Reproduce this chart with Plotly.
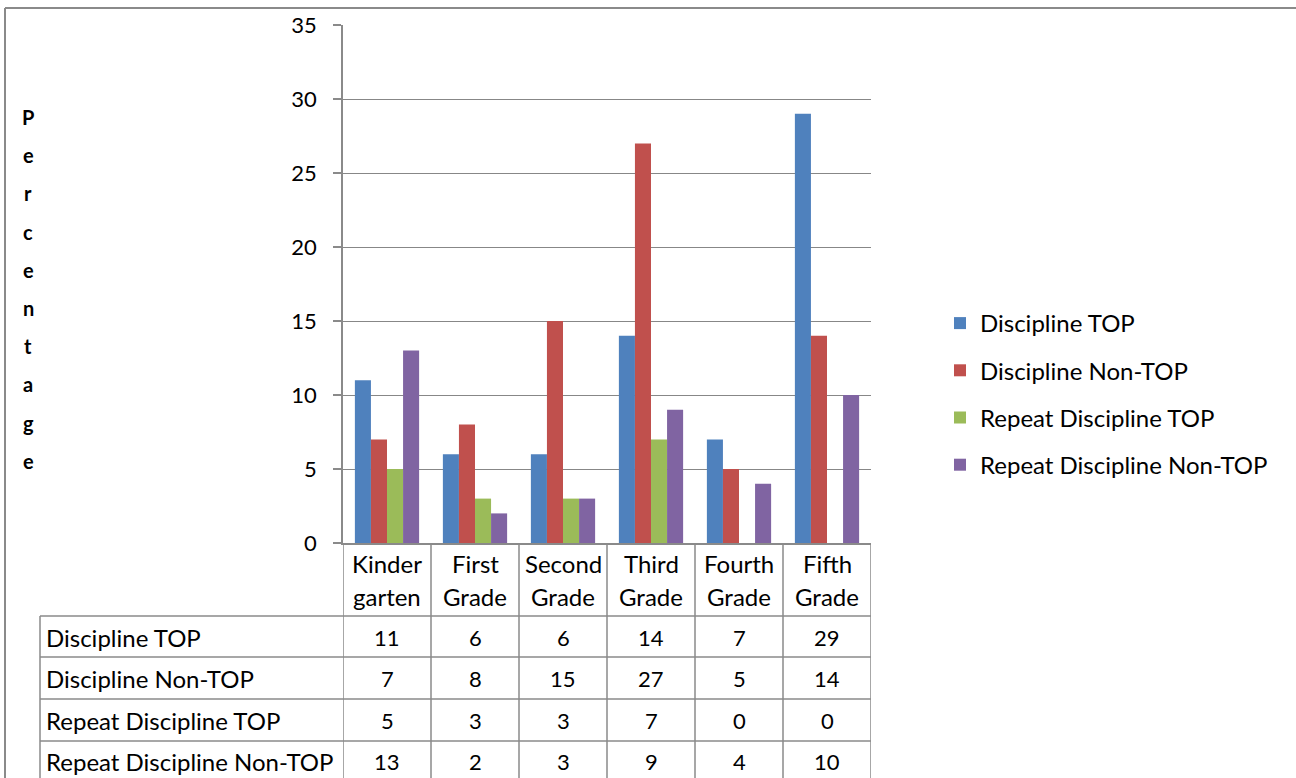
import plotly.graph_objects as go

# --- data -------------------------------------------------------------
grades = ["Kindergarten", "First Grade", "Second Grade", "Third Grade", "Fourth Grade", "Fifth Grade"]
grade_line1 = ["Kinder", "First", "Second", "Third", "Fourth", "Fifth"]
grade_line2 = ["garten", "Grade", "Grade", "Grade", "Grade", "Grade"]

series_names = ["Discipline TOP", "Discipline Non-TOP", "Repeat Discipline TOP", "Repeat Discipline Non-TOP"]
discipline_top = [11, 6, 6, 14, 7, 29]
discipline_non_top = [7, 8, 15, 27, 5, 14]
repeat_top = [5, 3, 3, 7, 0, 0]
repeat_non_top = [13, 2, 3, 9, 4, 10]
series_values = [discipline_top, discipline_non_top, repeat_top, repeat_non_top]

y_title = "Percentage"
y_ticks = [0, 5, 10, 15, 20, 25, 30, 35]

# --- styling ----------------------------------------------------------
colors = ["#4F81BD", "#C0504D", "#9BBB59", "#8064A2"]
FONT = "Lato"
GRID = "#878787"
LINE = "#8a8a8a"
TEXT_SIZE = 24
NUM_SIZE = 22
W, H = 1296, 778


def px(x):
    return x / W


def py(y):
    return 1 - y / H


plot_left, plot_right = 343, 871
plot_top, plot_bottom = 25, 543
row_lines = [616, 657, 699, 741]
row_centers = [637, 678, 720, 761]
table_left = 40

fig = go.Figure()
for name, vals, col in zip(series_names, series_values, colors):
    fig.add_trace(go.Bar(x=grades, y=vals, name=name, legendgroup=name,
                         marker=dict(color=col, line=dict(width=0))))

shapes = []
ann = []

# outer chart frame
shapes.append(dict(type="line", xref="paper", yref="paper", x0=px(5), x1=1, y0=py(8), y1=py(8),
                   line=dict(color=LINE, width=2)))
shapes.append(dict(type="line", xref="paper", yref="paper", x0=px(5), x1=px(5), y0=py(8), y1=0,
                   line=dict(color=LINE, width=2)))

# data table grid: column dividers tied to the category axis
for i in range(len(grades) + 1):
    shapes.append(dict(type="line", xref="x", yref="paper", x0=i - 0.5, x1=i - 0.5,
                       y0=py(plot_bottom), y1=0, line=dict(color=LINE, width=1.5)))
shapes.append(dict(type="line", xref="paper", yref="paper", x0=px(table_left), x1=px(table_left),
                   y0=py(row_lines[0]), y1=0, line=dict(color=LINE, width=1.5)))
for r in row_lines:
    shapes.append(dict(type="line", xref="paper", yref="paper", x0=px(table_left), x1=px(plot_right),
                       y0=py(r), y1=py(r), line=dict(color=LINE, width=1.5)))

# category header labels (two lines per cell)
for g, l1, l2 in zip(grades, grade_line1, grade_line2):
    for txt, yc in ((l1, 563), (l2, 596)):
        ann.append(dict(x=g, xref="x", y=py(yc), yref="paper", text=txt, showarrow=False,
                        font=dict(family=FONT, size=TEXT_SIZE, color="#000"),
                        xanchor="center", yanchor="middle"))

# table rows: series name + values
for name, vals, yc in zip(series_names, series_values, row_centers):
    ann.append(dict(x=px(44), xref="paper", y=py(yc), yref="paper", text=name, showarrow=False,
                    font=dict(family=FONT, size=TEXT_SIZE, color="#000"), xanchor="left", yanchor="middle"))
    for g, v in zip(grades, vals):
        ann.append(dict(x=g, xref="x", y=py(yc), yref="paper", text=str(v), showarrow=False,
                        font=dict(family=FONT, size=NUM_SIZE, color="#000"),
                        xanchor="center", yanchor="middle"))

# vertical stacked axis title
letter_top, letter_step = 117, 38.2
for k, ch in enumerate(y_title):
    ann.append(dict(x=px(28), xref="paper", y=py(letter_top + k * letter_step), yref="paper",
                    text=f"<b>{ch}</b>", showarrow=False, font=dict(family=FONT, size=20, color="#000"),
                    xanchor="center", yanchor="middle"))

fig.update_layout(
    width=W, height=H,
    margin=dict(l=0, r=0, t=0, b=0, autoexpand=False),
    paper_bgcolor="white", plot_bgcolor="white",
    barmode="group", bargap=0.27, bargroupgap=0,
    font=dict(family=FONT, size=TEXT_SIZE, color="#000"),
    shapes=shapes, annotations=ann,
    xaxis=dict(domain=[px(plot_left), px(plot_right)], type="category", range=[-0.5, len(grades) - 0.5],
               showticklabels=False, showgrid=False, showline=True, linecolor=LINE, linewidth=1.5,
               ticks="", zeroline=False),
    yaxis=dict(domain=[py(plot_bottom), py(plot_top)], range=[0, 35], tickvals=y_ticks,
               showgrid=True, gridcolor=GRID, gridwidth=1.3, showline=True, linecolor=LINE, linewidth=1.5,
               ticks="outside", ticklen=8, tickcolor=LINE, tickwidth=1.5, zeroline=False,
               tickfont=dict(family=FONT, size=NUM_SIZE, color="#000"), ticklabelstandoff=12),
    legend=dict(x=px(940), y=py(301), xanchor="left", yanchor="top",
                font=dict(family=FONT, size=TEXT_SIZE), tracegroupgap=13, itemwidth=30,
                bgcolor="rgba(0,0,0,0)"),
    showlegend=True,
)

fig.write_html("out.html")
